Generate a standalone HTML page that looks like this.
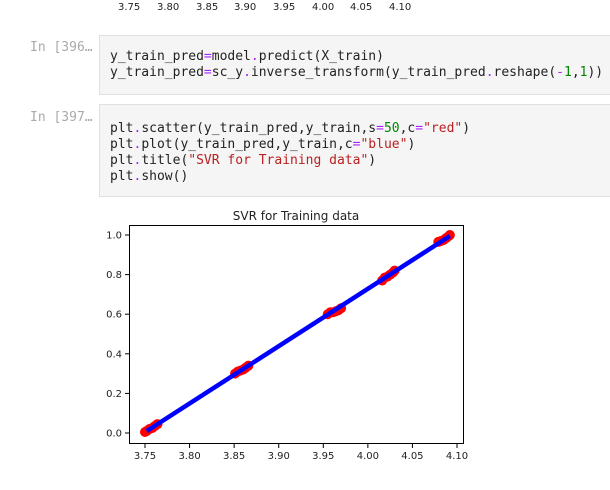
<!DOCTYPE html>
<html><head><meta charset="utf-8"><style>
body{margin:0;width:610px;height:490px;background:#fff;overflow:hidden;position:relative;font-family:"DejaVu Sans","Liberation Sans",sans-serif}
.prompt{position:absolute;left:30px;font:13px "DejaVu Sans Mono",monospace;color:#aaa}
.cell{position:absolute;left:99px;width:520px;background:#f5f5f5;border:1px solid #e0e0e0;box-sizing:border-box}
pre{margin:0;position:absolute;left:10px;font:13px/16px "DejaVu Sans Mono","Liberation Mono",monospace;color:#222}
.o{color:#aa22ff}.n{color:#080}.s{color:#ba2121}
.top{position:absolute;top:2px;font-size:10px;color:#222}
</style></head><body>
<div>
<span class="top" style="left:118px">3.75</span><span class="top" style="left:157px">3.80</span><span class="top" style="left:196px">3.85</span><span class="top" style="left:234px">3.90</span><span class="top" style="left:273px">3.95</span><span class="top" style="left:312px">4.00</span><span class="top" style="left:350px">4.05</span><span class="top" style="left:389px">4.10</span></div>
<div class="prompt" style="top:40px">In [396…</div>
<div class="cell" style="top:35px;height:60px"><pre style="top:13px">y_train_pred<span class="o">=</span>model<span class="o">.</span>predict(X_train)
y_train_pred<span class="o">=</span>sc_y<span class="o">.</span>inverse_transform(y_train_pred<span class="o">.</span>reshape(<span class="o">-</span><span class="n">1</span>,<span class="n">1</span>))</pre></div>
<div class="prompt" style="top:110px">In [397…</div>
<div class="cell" style="top:104px;height:93px"><pre style="top:16px">plt<span class="o">.</span>scatter(y_train_pred,y_train,s<span class="o">=</span><span class="n">50</span>,c<span class="o">=</span><span class="s">"red"</span>)
plt<span class="o">.</span>plot(y_train_pred,y_train,c<span class="o">=</span><span class="s">"blue"</span>)
plt<span class="o">.</span>title(<span class="s">"SVR for Training data"</span>)
plt<span class="o">.</span>show()</pre></div>
<svg id="chart" width="610" height="490" style="position:absolute;left:0;top:0">
<text x="296" y="220" font-size="12" text-anchor="middle" fill="#222" font-family="DejaVu Sans,sans-serif">SVR for Training data</text>
<g id="marks"></g>
<rect x="129.5" y="225.5" width="334" height="218" fill="none" stroke="#000" stroke-width="1"/>
<g id="axes" font-size="10" fill="#222" font-family="DejaVu Sans,sans-serif"></g>
</svg>
<script>
const xTicks=[3.75,3.80,3.85,3.90,3.95,4.00,4.05,4.10];
const yTicks=[0.0,0.2,0.4,0.6,0.8,1.0];
const predX=[3.750,3.752,3.755,3.758,3.761,3.764,3.851,3.854,3.857,3.860,3.863,3.866,3.955,3.958,3.961,3.964,3.967,3.970,4.016,4.019,4.022,4.025,4.028,4.030,4.079,4.082,4.085,4.088,4.091,4.092];
const trainY=[0.005,0.01,0.02,0.025,0.035,0.045,0.30,0.31,0.315,0.32,0.33,0.34,0.60,0.61,0.61,0.615,0.62,0.63,0.77,0.785,0.79,0.80,0.81,0.82,0.965,0.97,0.975,0.985,0.995,1.0];
const fitX=[3.752,4.092];
const fitY=[0.01,0.995];
const sx=v=>145+(v-3.75)/0.35*312;
const sy=v=>433-v*198;
const NS="http://www.w3.org/2000/svg";
const marks=document.getElementById('marks'),axes=document.getElementById('axes');
predX.forEach((x,i)=>{const c=document.createElementNS(NS,'circle');
c.setAttribute('cx',sx(x));c.setAttribute('cy',sy(trainY[i]));c.setAttribute('r',5);c.setAttribute('fill','red');


marks.appendChild(c);});
const l=document.createElementNS(NS,'line');
l.setAttribute('x1',sx(fitX[0]));l.setAttribute('y1',sy(fitY[0]));l.setAttribute('x2',sx(fitX[1]));l.setAttribute('y2',sy(fitY[1]));
l.setAttribute('stroke','blue');l.setAttribute('stroke-width',4.5);


marks.appendChild(l);
xTicks.forEach(t=>{const x=sx(t);
const tk=document.createElementNS(NS,'line');tk.setAttribute('x1',x);tk.setAttribute('x2',x);tk.setAttribute('y1',444);tk.setAttribute('y2',448);tk.setAttribute('stroke','#000');


axes.appendChild(tk);
const tx=document.createElementNS(NS,'text');tx.setAttribute('x',x);tx.setAttribute('y',459);tx.setAttribute('text-anchor','middle');tx.textContent=t.toFixed(2);


axes.appendChild(tx);});
yTicks.forEach(t=>{const y=sy(t);
const tk=document.createElementNS(NS,'line');tk.setAttribute('x1',125);tk.setAttribute('x2',129);tk.setAttribute('y1',y);tk.setAttribute('y2',y);tk.setAttribute('stroke','#000');


axes.appendChild(tk);
const tx=document.createElementNS(NS,'text');tx.setAttribute('x',122);tx.setAttribute('y',y+3.5);tx.setAttribute('text-anchor','end');tx.textContent=t.toFixed(1);


axes.appendChild(tx);});
</script>
</body></html>
